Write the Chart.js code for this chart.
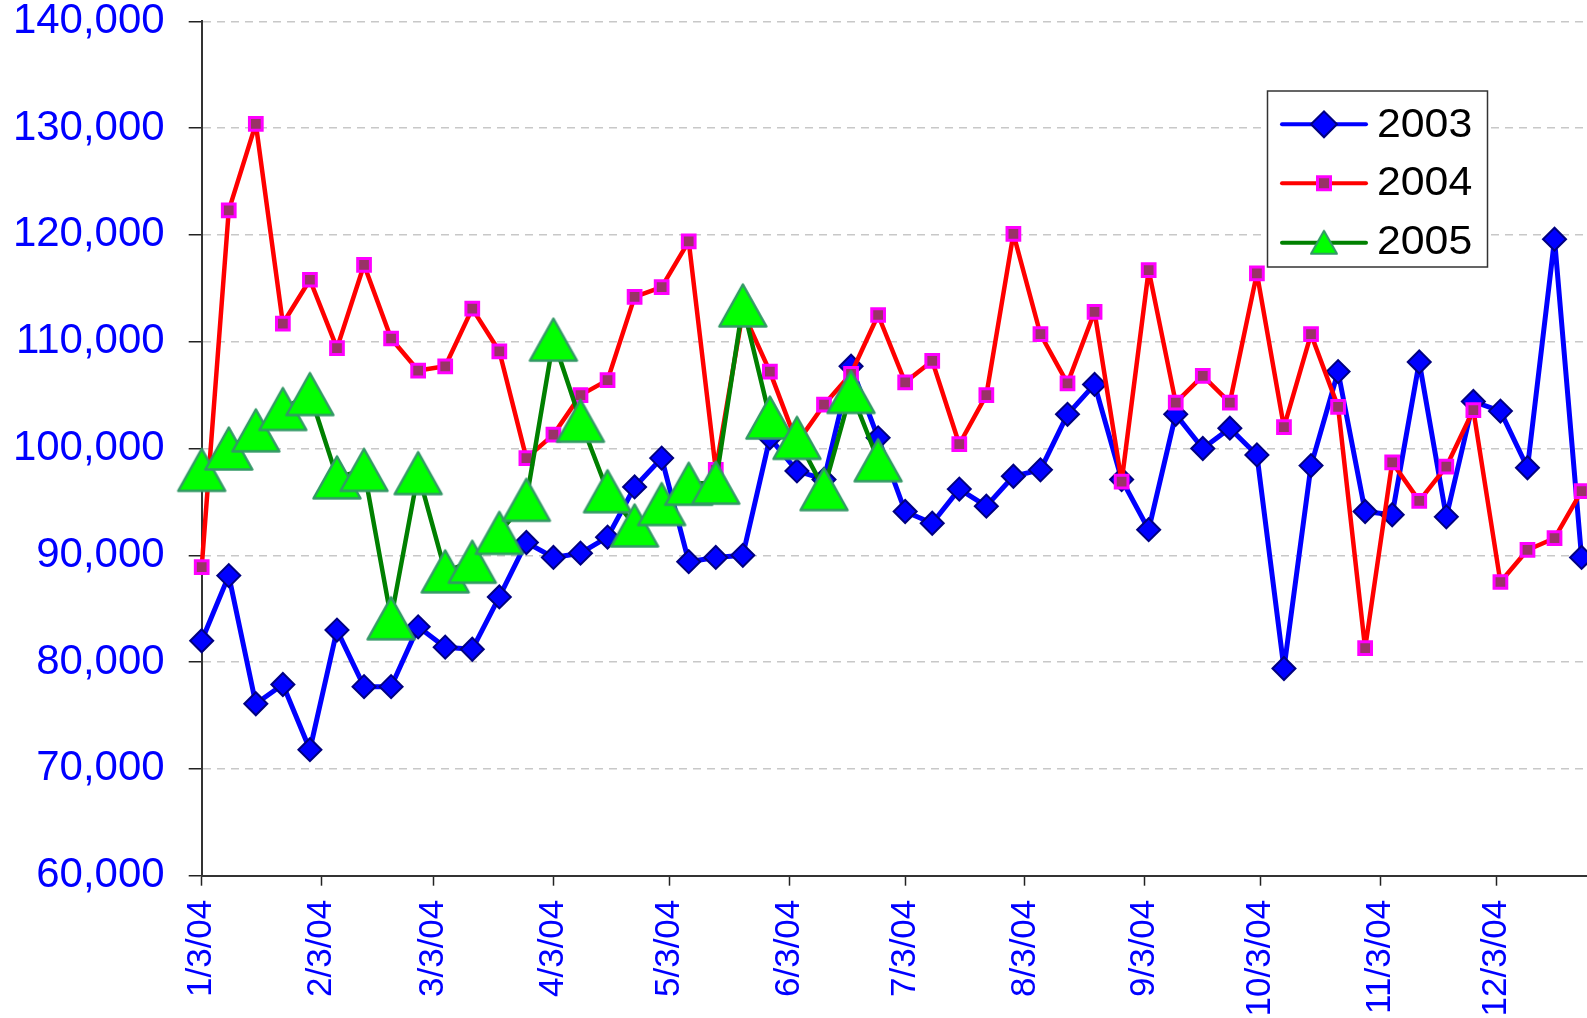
<!DOCTYPE html>
<html>
<head>
<meta charset="utf-8">
<script src="https://cdn.jsdelivr.net/npm/chart.js@4"></script>
<style>
  html, body { margin: 0; padding: 0; background: #fff; }
  canvas { display: block; }
</style>
</head>
<body>
<canvas id="chart" width="1587" height="1018"></canvas>
<script>
// weekly dates on the x axis
const weeks = ['1/3/04', '1/10/04', '1/17/04', '1/24/04', '1/31/04', '2/7/04', '2/14/04', '2/21/04', '2/28/04',
    '3/6/04', '3/13/04', '3/20/04', '3/27/04', '4/3/04', '4/10/04', '4/17/04', '4/24/04', '5/1/04', '5/8/04',
    '5/15/04', '5/22/04', '5/29/04', '6/5/04', '6/12/04', '6/19/04', '6/26/04', '7/3/04', '7/10/04', '7/17/04',
    '7/24/04', '7/31/04', '8/7/04', '8/14/04', '8/21/04', '8/28/04', '9/4/04', '9/11/04', '9/18/04', '9/25/04',
    '10/2/04', '10/9/04', '10/16/04', '10/23/04', '10/30/04', '11/6/04', '11/13/04', '11/20/04', '11/27/04',
    '12/4/04', '12/11/04', '12/18/04', '12/25/04']

const sales2003 = [82000, 88100, 76100, 77900, 71800, 83000, 77700, 77700, 83300, 81400, 81200, 86100, 91200,
    89800, 90200, 91700, 96400, 99100, 89400, 89800, 90000, 101000, 97900, 97100, 107700, 101000, 94100, 93000,
    96200, 94600, 97400, 98000, 103200, 106000, 97100, 92400, 103200, 100000, 101900, 99400, 79400, 98400,
    107200, 94100, 93800, 108100, 93600, 104400, 103500, 98200, 119600, 89800]

const sales2004 = [88900, 122300, 130400, 111700, 115800, 109400, 117200, 110300, 107300, 107700, 113100, 109100,
    99100, 101300, 105000, 106400, 114200, 115100, 119400, 98000, 112800, 107200, 100500, 104100, 107000, 112500,
    106200, 108200, 100400, 105000, 120100, 110700, 106100, 112800, 96900, 116700, 104300, 106800, 104300, 116400,
    102000, 110700, 103900, 81300, 98700, 95100, 98300, 103600, 87500, 90500, 91600, 96000]

const sales2005 = [98000, 100000, 101700, 103700, 105100, 97300, 98000, 84100, 97700, 88500, 89400, 92100, 95200,
    110200, 102600, 96000, 92800, 94800, 96700, 96800, 113400, 102900, 101000, 96200, 105300, 98900]

const tickLabels = ['1/3/04', '2/3/04', '3/3/04', '4/3/04', '5/3/04', '6/3/04', '7/3/04', '8/3/04', '9/3/04',
    '10/3/04', '11/3/04', '12/3/04']

const FONT = '"Liberation Sans", Arial, sans-serif'

// days counted from 1/3/04
const dayOf = (s) => {
    let [m, d, y] = s.split('/').map(Number)
    return (Date.UTC(2000 + y, m - 1, d) - Date.UTC(2004, 0, 3)) / 86400000
}
const tickDays = tickLabels.map(dayOf)
const toPoints = (vals) => vals.map((v, i) => ({ x: dayOf(weeks[i]), y: v }))

// excel style triangle, centred on its box and not on its centroid
const makeTriangle = (w, h, lw) => {
    let c = document.createElement('canvas')
    c.width = w
    c.height = h
    let g = c.getContext('2d')
    g.beginPath()
    g.moveTo(w / 2, lw)
    g.lineTo(w - lw, h - lw)
    g.lineTo(lw, h - lw)
    g.closePath()
    g.fillStyle = '#00ff00'
    g.fill()
    g.lineWidth = lw
    g.lineJoin = 'round'
    g.strokeStyle = '#339966'
    g.stroke()
    return c
}
const bigTriangle = makeTriangle(52, 47, 2.5)
const smallTriangle = makeTriangle(30, 27, 2)

const drawMarker = (ctx, style, x, y) => {
    ctx.beginPath()
    if (style === 'diamond') {
        ctx.moveTo(x - 13, y); ctx.lineTo(x, y - 13); ctx.lineTo(x + 13, y); ctx.lineTo(x, y + 13)
        ctx.closePath()
        ctx.fillStyle = '#0000ff'; ctx.fill()
        ctx.lineWidth = 2; ctx.strokeStyle = '#000080'; ctx.stroke()
    } else if (style === 'square') {
        ctx.rect(x - 6.5, y - 6.5, 13, 13)
        ctx.fillStyle = '#993366'; ctx.fill()
        ctx.lineWidth = 3; ctx.strokeStyle = '#ff00ff'; ctx.stroke()
    } else {
        ctx.drawImage(smallTriangle, x - 15, y - 14)
    }
}

const legendBox = {
    id: 'legendBox',
    afterDraw(chart) {
        let ctx = chart.ctx
        let rows = [
            { label: '2003', color: '#0000ff', marker: 'diamond', y: 124.3, base: 136.7 },
            { label: '2004', color: '#ff0000', marker: 'square', y: 183.3, base: 195.2 },
            { label: '2005', color: '#008000', marker: 'triangle', y: 242.7, base: 253.7 }
        ]
        ctx.save()
        ctx.fillStyle = '#fff'
        ctx.fillRect(1267, 91, 221, 176)
        ctx.strokeStyle = '#333'
        ctx.lineWidth = 1.5
        ctx.strokeRect(1267.5, 91, 220, 176)
        rows.forEach(r => {
            ctx.beginPath()
            ctx.moveTo(1282, r.y)
            ctx.lineTo(1366, r.y)
            ctx.lineWidth = 4
            ctx.lineCap = 'round'
            ctx.strokeStyle = r.color
            ctx.stroke()
            drawMarker(ctx, r.marker, 1324, r.y)
            ctx.save()
            ctx.translate(1377, r.base)
            ctx.scale(1.07, 1)
            ctx.fillStyle = '#000'
            ctx.font = '40px ' + FONT
            ctx.textBaseline = 'alphabetic'
            ctx.fillText(r.label, 0, 0)
            ctx.restore()
        })
        ctx.restore()
    }
}

let ctx = document.getElementById('chart').getContext('2d')
let chart = new Chart(ctx, {
    type: 'line',
    data: {
        datasets: [{
            label: '2003',
            data: toPoints(sales2003),
            borderColor: '#0000ff',
            borderWidth: 5,
            borderJoinStyle: 'round',
            pointStyle: 'rectRot',
            pointRadius: 11.5,
            pointBackgroundColor: '#0000ff',
            pointBorderColor: '#000080',
            pointBorderWidth: 2,
            order: 3,
            clip: false
        }, {
            label: '2004',
            data: toPoints(sales2004),
            borderColor: '#ff0000',
            borderWidth: 4.5,
            borderJoinStyle: 'round',
            pointStyle: 'rect',
            pointRadius: 9,
            pointBackgroundColor: '#993366',
            pointBorderColor: '#ff00ff',
            pointBorderWidth: 3,
            order: 2,
            clip: false
        }, {
            label: '2005',
            data: toPoints(sales2005),
            borderColor: '#008000',
            borderWidth: 4.5,
            borderJoinStyle: 'round',
            pointStyle: bigTriangle,
            order: 1,
            clip: false
        }]
    },
    options: {
        responsive: false,
        animation: false,
        layout: {
            autoPadding: false, // the last points run off the right edge, as in the original
            padding: { top: 21.3, right: 0, bottom: 0, left: 0 }
        },
        plugins: {
            legend: { display: false },
            tooltip: { enabled: false }
        },
        scales: {
            x: {
                type: 'linear',
                position: 'bottom',
                min: 0,
                max: 358.4,
                afterBuildTicks: (s) => { s.ticks = tickDays.map(v => ({ value: v })) },
                afterFit: (s) => {
                    s.height = 142.3
                    s.paddingLeft = 0
                    s.paddingRight = 0
                },
                ticks: {
                    autoSkip: false,
                    minRotation: 90,
                    maxRotation: 90,
                    padding: 14,
                    color: '#0000ff',
                    font: { family: FONT, size: 35 },
                    callback: (v, i) => tickLabels[i]
                },
                grid: {
                    drawOnChartArea: false, // only the small marks under the axis
                    tickLength: 10,
                    tickColor: '#222',
                    tickWidth: 1.5
                },
                border: { display: true, color: '#333', width: 2 }
            },
            y: {
                min: 60000,
                max: 140000,
                afterFit: (s) => {
                    s.width = 201.7
                    s.paddingTop = 0 // keep the plot top where the original has it
                    s.paddingBottom = 0
                },
                ticks: {
                    stepSize: 10000,
                    padding: 24,
                    color: '#0000ff',
                    font: { family: FONT, size: 42, lineHeight: 1 },
                    callback: (v) => v.toLocaleString('en-US')
                },
                grid: {
                    color: '#c8c8c8',
                    lineWidth: 1.5,
                    tickLength: 13,
                    tickColor: '#222',
                    tickWidth: 1.5
                },
                border: { display: true, color: '#333', width: 2, dash: [8, 6] }
            }
        }
    },
    plugins: [legendBox]
})
</script>
</body>
</html>
